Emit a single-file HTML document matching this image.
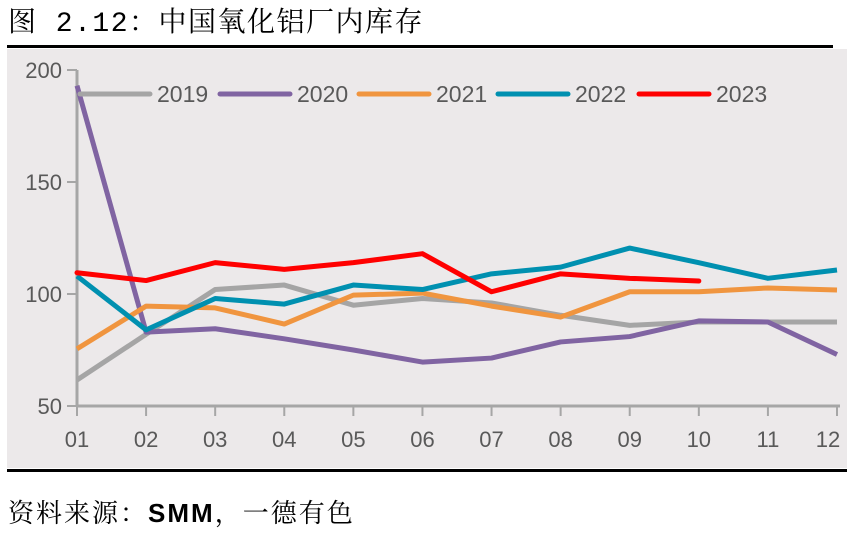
<!DOCTYPE html>
<html><head><meta charset="utf-8"><style>
body{margin:0;width:856px;height:530px;background:#fff;overflow:hidden;font-family:"Liberation Sans","Noto Sans CJK SC",sans-serif;}
</style></head><body>
<svg width="856" height="530" xmlns="http://www.w3.org/2000/svg">
<text x="8" y="31" font-size="28" letter-spacing="1.5" fill="#000" font-family="Liberation Mono, Noto Serif CJK SC, serif">图 2.12：中国氧化铝厂内库存</text>
<rect x="7" y="49" width="840" height="419" fill="#ECE9EA"/>
<rect x="7" y="45" width="826" height="3" fill="#000"/>
<rect x="7" y="469" width="840" height="3" fill="#000"/>
<g id="axes"></g>
<g id="series"></g>
<g id="legend"></g>
<text x="8" y="522" font-size="26" letter-spacing="2" fill="#000" font-family="Liberation Sans, Noto Serif CJK SC, serif">资料来源：<tspan font-weight="bold" font-family="Liberation Sans Narrow, Liberation Sans, sans-serif">SMM</tspan>，一德有色</text>
</svg>
<script>
const months=["01","02","03","04","05","06","07","08","09","10","11","12"];
const yTicks=[50,100,150,200];
const years=["2019","2020","2021","2022","2023"];
const colors=["#A5A5A5","#8064A2","#F0953F","#0090B0","#FF0000"];
const s2019=[61.6,82,102,104,95,98,96,90.5,86,87.5,87.5,87.5];
const s2020=[193,83,84.5,80,75,69.6,71.4,78.6,81,88,87.5,73];
const s2021=[75.5,94.6,93.8,86.6,99.5,100.4,94.6,89.7,101,101,102.7,101.8];
const s2022=[108,84,98,95.5,104,102,109,112,120.5,114,107,110.7];
const s2023=[109.5,106,114,111,114,118,101,109,107,105.8];
const allSeries=[s2019,s2020,s2021,s2022,s2023];
const NS="http://www.w3.org/2000/svg";
const x=i=>77+i*(837-77)/11;
const y=v=>406-(v-50)*336/150;
function mk(t,a,p){const e=document.createElementNS(NS,t);for(const k in a)e.setAttribute(k,a[k]);p.appendChild(e);return e;}
const ax=document.getElementById('axes');
let e=mk('line',{x1:77,y1:y(200),x2:77,y2:406,stroke:'#A6A6A6','stroke-width':3},ax);


e=mk('line',{x1:77,y1:406,x2:840,y2:406,stroke:'#A6A6A6','stroke-width':3},ax);


yTicks.forEach(v=>{
 mk('line',{x1:67,y1:y(v),x2:77,y2:y(v),stroke:'#A6A6A6','stroke-width':2},ax);
 const t=mk('text',{x:62,y:y(v)+8,'text-anchor':'end','font-size':22,fill:'#595959'},ax);
 t.textContent=v;
 
 
});
months.forEach((m,i)=>{
 mk('line',{x1:x(i),y1:406,x2:x(i),y2:416,stroke:'#A6A6A6','stroke-width':2},ax);
 const t=mk('text',{x:x(i)-(i==11?9:0),y:447,'text-anchor':'middle','font-size':22,fill:'#595959'},ax);
 t.textContent=m;
 
 
});
const sg=document.getElementById('series');
allSeries.forEach((s,k)=>{
 const p=mk('polyline',{points:s.map((v,i)=>x(i)+','+y(v)).join(' '),fill:'none',stroke:colors[k],'stroke-width':5,'stroke-linejoin':'round','stroke-linecap':k==4?'round':'butt'},sg);
 
 
});
const lg=document.getElementById('legend');
const lx=[80,220,359,498,639];
years.forEach((yr,k)=>{
 const g=mk('g',{},lg);
 
 
 mk('line',{x1:lx[k],y1:94,x2:lx[k]+70,y2:94,stroke:colors[k],'stroke-width':5,'stroke-linecap':'round'},g);
 const t=mk('text',{x:lx[k]+77,y:102,'font-size':23,fill:'#595959'},g);
 t.textContent=yr;
});
</script>
</body></html>
